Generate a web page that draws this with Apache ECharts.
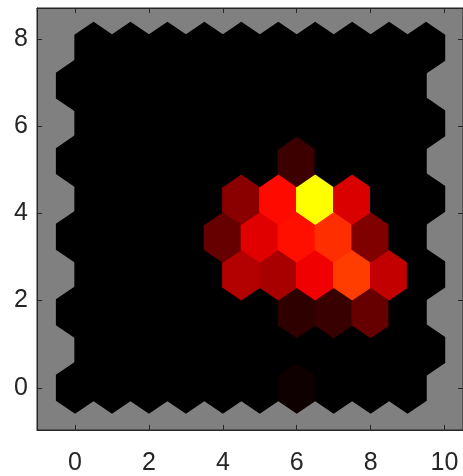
<!DOCTYPE html>
<html>
<head>
<meta charset="utf-8">
<script src="https://cdn.jsdelivr.net/npm/echarts@6/dist/echarts.min.js"></script>
<style>
  html, body { margin: 0; padding: 0; background: #fff; }
  #hits { width: 463px; height: 476px; }
</style>
</head>
<body>
<div id="hits"></div>
<script>
// hit counts per neuron, row 0 is the bottom row (10 x 10 hex grid)
var hitsRow0 = [0, 0, 0, 0, 0, 0, 3, 0, 0, 0];
var hitsRow1 = [0, 0, 0, 0, 0, 0, 0, 0, 0, 0];
var hitsRow2 = [0, 0, 0, 0, 0, 0, 9, 11, 20, 0];
var hitsRow3 = [0, 0, 0, 0, 35, 33, 47, 62, 38, 0];
var hitsRow4 = [0, 0, 0, 0, 20, 44, 53, 59, 25, 0];
var hitsRow5 = [0, 0, 0, 0, 27, 52, 100, 43, 0, 0];
var hitsRow6 = [0, 0, 0, 0, 0, 0, 12, 0, 0, 0];
var hitsRow7 = [0, 0, 0, 0, 0, 0, 0, 0, 0, 0];
var hitsRow8 = [0, 0, 0, 0, 0, 0, 0, 0, 0, 0];
var hitsRow9 = [0, 0, 0, 0, 0, 0, 0, 0, 0, 0];
var hitsRows = [hitsRow0, hitsRow1, hitsRow2, hitsRow3, hitsRow4,
                hitsRow5, hitsRow6, hitsRow7, hitsRow8, hitsRow9];

var xTicks = [0, 2, 4, 6, 8, 10];
var yTicks = [0, 2, 4, 6, 8];

var ROW_STEP = Math.sqrt(3) / 2;
var R = 1 / Math.sqrt(3); // hexagon circumradius for width 1

var cells = [];
for (var r = 0; r < hitsRows.length; r++) {
  for (var c = 0; c < hitsRows[r].length; c++) {
    cells.push([c + (r % 2) * 0.5, r * ROW_STEP, hitsRows[r][c]]);
  }
}

var axisColor = '#262626';
var labelFont = { color: axisColor, fontSize: 25, fontFamily: 'Liberation Sans, Arial, sans-serif' };

function tickAxis(custom) {
  return {
    show: true, inside: true, length: 5,
    customValues: custom,
    lineStyle: { color: axisColor, width: 1 }
  };
}

function edgeLine() {
  return { show: true, onZero: false, lineStyle: { color: axisColor, width: 1 } };
}

var chart = echarts.init(document.getElementById('hits'));
var option = {
  animation: false,
  grid: {
    left: 37, top: 8, width: 434, height: 424,
    show: true,
    backgroundColor: '#808080',
    borderColor: axisColor,
    borderWidth: 1
  },
  visualMap: {
    show: false,
    seriesIndex: 0,
    dimension: 2,
    min: 0,
    max: 100,
    inRange: { color: ['#000000', '#ff0000', '#ffff00'] }
  },
  xAxis: [{
    type: 'value', min: -1.03, max: 10.5, position: 'bottom',
    splitLine: { show: false },
    axisLine: edgeLine(),
    axisTick: tickAxis(xTicks),
    axisLabel: Object.assign({ margin: 21, customValues: xTicks }, labelFont)
  }, {
    type: 'value', min: -1.03, max: 10.5, position: 'top',
    splitLine: { show: false },
    axisLine: edgeLine(),
    axisTick: tickAxis(xTicks),
    axisLabel: { show: false }
  }],
  yAxis: [{
    type: 'value', min: -0.968, max: 8.707, position: 'left',
    splitLine: { show: false },
    axisLine: edgeLine(),
    axisTick: tickAxis(yTicks),
    axisLabel: Object.assign({ margin: 9, customValues: yTicks }, labelFont)
  }, {
    type: 'value', min: -0.968, max: 8.707, position: 'right',
    splitLine: { show: false },
    axisLine: edgeLine(),
    axisTick: tickAxis(yTicks),
    axisLabel: { show: false }
  }],
  series: [{
    type: 'custom',
    xAxisIndex: 0,
    yAxisIndex: 0,
    data: cells,
    renderItem: function (params, api) {
      var cx = api.value(0), cy = api.value(1);
      var corners = [
        [cx, cy + R], [cx + 0.5, cy + R / 2], [cx + 0.5, cy - R / 2],
        [cx, cy - R], [cx - 0.5, cy - R / 2], [cx - 0.5, cy + R / 2]
      ];
      var pts = corners.map(function (p) { return api.coord(p); });
      var col = api.visual('color');
      return {
        type: 'polygon',
        shape: { points: pts },
        style: { fill: col, stroke: col, lineWidth: 1.4 }
      };
    }
  }]
};
chart.setOption(option);
</script>
</body>
</html>
